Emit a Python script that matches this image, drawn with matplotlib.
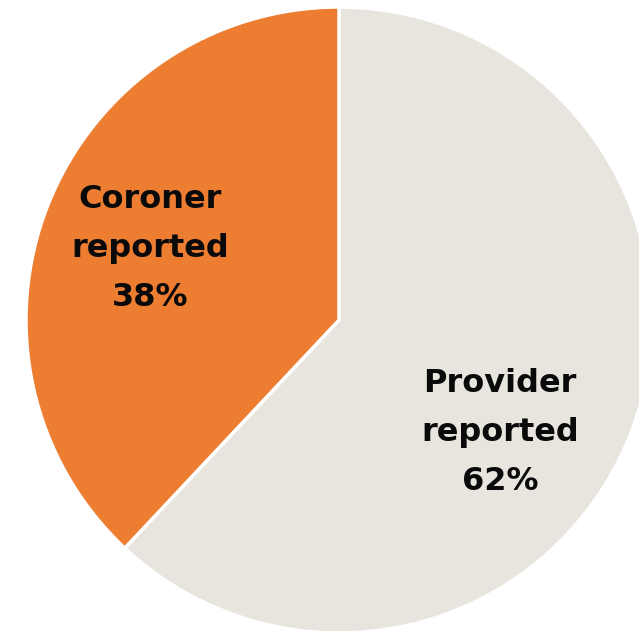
import matplotlib
matplotlib.use("Agg")
import matplotlib.pyplot as plt

# Share of reports by source
labels = ["Provider\nreported", "Coroner\nreported"]
shares = [62, 38]
colors = ["#E8E5DF", "#ED7D31"]

fig = plt.figure(figsize=(6.39, 6.31), dpi=100)
ax = fig.add_axes([0, 0, 1, 1])

ax.pie(shares, colors=colors, startangle=90, counterclock=False,
       center=(339, 311), radius=313,
       wedgeprops=dict(edgecolor="white", linewidth=2.5))

# pie() resets the limits, so set them afterwards
ax.set_xlim(0, 639)
ax.set_ylim(0, 631)
ax.set_aspect("equal")
ax.axis("off")

# labels written by hand inside each wedge
text_pos = [(500, 199), (150, 383)]
for lab, val, (x, y) in zip(labels, shares, text_pos):
    ax.text(x, y, f"{lab}\n{val}%", ha="center", va="center",
            fontsize=23, fontweight="bold", family="DejaVu Sans",
            linespacing=1.75, color="#0a0a0a")

fig.savefig("out.png", dpi=100)
